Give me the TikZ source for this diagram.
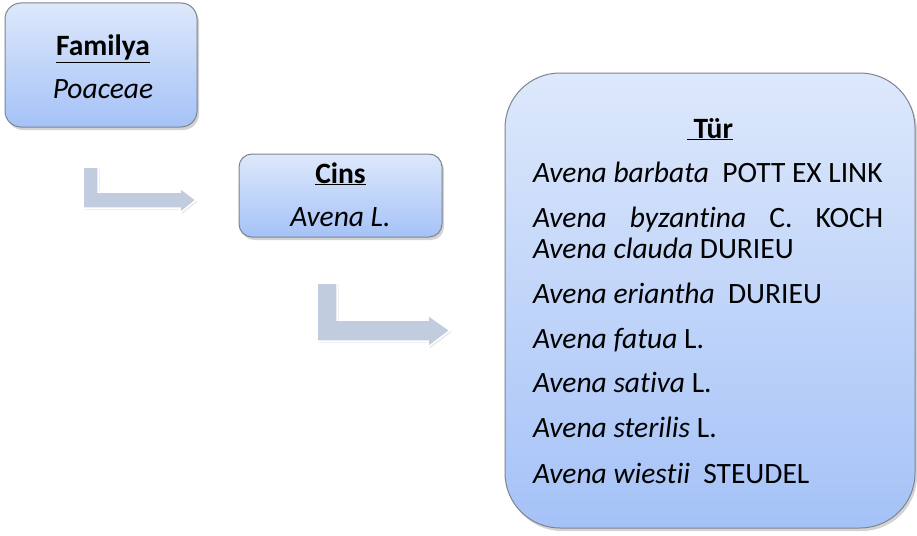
\documentclass[tikz,border=0pt]{standalone}
\usepackage{fontspec}
\setmainfont{Carlito}[Ligatures=NoCommon]
\usetikzlibrary{positioning,shadows,calc}
\definecolor{boxtop}{HTML}{DDE8FB}
\definecolor{boxbot}{HTML}{A5C2F7}
\definecolor{boxrim}{HTML}{7E848E}
\definecolor{arrowfill}{HTML}{C2CCDF}
\tikzset{
  taxbox/.style={draw=boxrim,line width=1pt,top color=boxtop,bottom color=boxbot,
    drop shadow={shadow xshift=2pt,shadow yshift=-3pt,opacity=.35},inner sep=0pt},
  bentarrow/.style={fill=arrowfill,draw=white,line width=1.5pt,
    drop shadow={shadow xshift=1.5pt,shadow yshift=-1.5pt,opacity=.2}},
  txt/.style={font=\fontsize{29.5}{34}\selectfont,inner sep=0pt},
  head/.style={txt,anchor=base,font=\fontsize{29.5}{34}\selectfont\bfseries},
  line/.style={txt,anchor=base west}
}
\begin{document}
\begin{tikzpicture}[x=1pt,y=-1pt]
\useasboundingbox (0,0) rectangle (917,535);
% boxes
\node[taxbox,rounded corners=16pt,minimum width=192pt,minimum height=124pt] (fam) at (101,65) {};
\node[taxbox,rounded corners=13pt,minimum width=203pt,minimum height=83pt] (cins) at (340.5,195.5) {};
\node[taxbox,rounded corners=55pt,minimum width=410pt,minimum height=455pt] (tur) at (710,300.5) {};
% family
\node[head] (famT) at (103,56) {\underline{Familya}};
\node[txt,anchor=base] (famN) at (103,98) {\textit{Poaceae}};
% genus
\node[head] (cinsT) at (340.5,183) {\underline{Cins}};
\node[txt,anchor=base] (cinsN) at (340.5,226) {\textit{Avena L.}};
% species
\node[head] (turT) at (710,138) {\underline{\ Tür}};
\node[line] (sp1) at (533,182) {\textit{Avena barbata}\ \ POTT EX LINK};
\node[line] (sp2) at (533,227) {\makebox[350pt][s]{\textit{Avena} \textit{byzantina} C. KOCH}};
\node[line] (sp3) at (533,258) {\textit{Avena clauda} DURIEU};
\node[line] (sp4) at (533,303) {\textit{Avena eriantha}\ \ DURIEU};
\node[line] (sp5) at (533,348) {\textit{Avena fatua} L.};
\node[line] (sp6) at (533,392) {\textit{Avena sativa} L.};
\node[line] (sp7) at (533,437) {\textit{Avena sterilis} L.};
\node[line] (sp8) at (533,483) {\textit{Avena wiestii}\ \ STEUDEL};
% bent arrows
\draw[bentarrow] (83,167) -- (98,167) -- (98,192) -- (180,192) -- (180,188) -- (196,200)
  -- (180,213) -- (180,208) -- (83,208) -- cycle;
\draw[bentarrow] (317,283) -- (337,283) -- (337,320) -- (428,320) -- (428,315) -- (450,330.5)
  -- (428,347) -- (428,341) -- (317,341) -- cycle;
\end{tikzpicture}
\end{document}
